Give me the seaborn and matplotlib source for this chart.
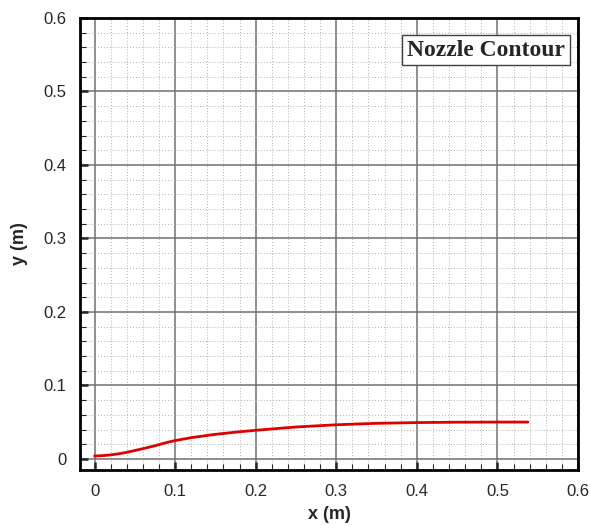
import numpy as np
import pandas as pd
import matplotlib
matplotlib.use('Agg')
import matplotlib.pyplot as plt
import seaborn as sns
from matplotlib.ticker import MultipleLocator

# nozzle wall contour
x_m = [0.0, 0.01, 0.02, 0.03, 0.04, 0.05, 0.06, 0.075, 0.09, 0.1, 0.12, 0.15, 0.18, 0.2,
       0.25, 0.3, 0.35, 0.4, 0.45, 0.5, 0.538]
y_m = [0.004, 0.0045, 0.0055, 0.007, 0.009, 0.0115, 0.014, 0.018, 0.0225, 0.025, 0.029,
       0.0335, 0.037, 0.039, 0.0435, 0.0465, 0.0485, 0.0495, 0.05, 0.0502, 0.0502]

df = pd.DataFrame({'x': x_m, 'y': y_m})

sns.set_style('white')
plt.rcParams['font.family'] = ['Liberation Sans', 'DejaVu Sans']

fig = plt.figure(figsize=(5.91, 5.25), dpi=100)
ax = fig.add_axes([0.1354, 0.1048, 0.978 - 0.1354, 0.9657 - 0.1048])

sns.lineplot(data=df, x='x', y='y', color='#e00000', linewidth=2, ax=ax)

ax.set_xlim(-0.018, 0.6)
ax.set_ylim(-0.015, 0.6)
ax.xaxis.set_major_locator(MultipleLocator(0.1))
ax.yaxis.set_major_locator(MultipleLocator(0.1))
ax.xaxis.set_minor_locator(MultipleLocator(0.02))
ax.yaxis.set_minor_locator(MultipleLocator(0.02))
ax.xaxis.set_major_formatter(lambda v, p: '0' if abs(v) < 1e-9 else f'{v:g}')
ax.yaxis.set_major_formatter(lambda v, p: '0' if abs(v) < 1e-9 else f'{v:g}')

ax.grid(which='major', color='#707070', linewidth=1.1, linestyle='-')
ax.grid(which='minor', color='#b0b0b0', linewidth=0.7, linestyle=(0, (1, 2)))
ax.set_axisbelow(True)

ax.tick_params(which='major', direction='in', length=6, width=1.8, labelsize=12,
               bottom=True, left=True, top=False, right=False, pad=10)
ax.tick_params(which='minor', direction='in', length=4, width=0.8,
               bottom=True, left=True, top=False, right=False)
for s in ax.spines.values():
    s.set_linewidth(2)
    s.set_color('black')

ax.set_xlabel('x (m)', fontsize=13, fontweight='bold', labelpad=5)
ax.set_ylabel('y (m)', fontsize=13, fontweight='bold', labelpad=11)

ax.text(0.815, 0.929, 'Nozzle Contour', transform=ax.transAxes, ha='center', va='center',
        fontsize=17, fontweight='bold', family='Liberation Serif',
        bbox=dict(boxstyle='square,pad=0.2', facecolor='white', edgecolor='#404040', linewidth=1))

fig.savefig('out.png', dpi=100)
